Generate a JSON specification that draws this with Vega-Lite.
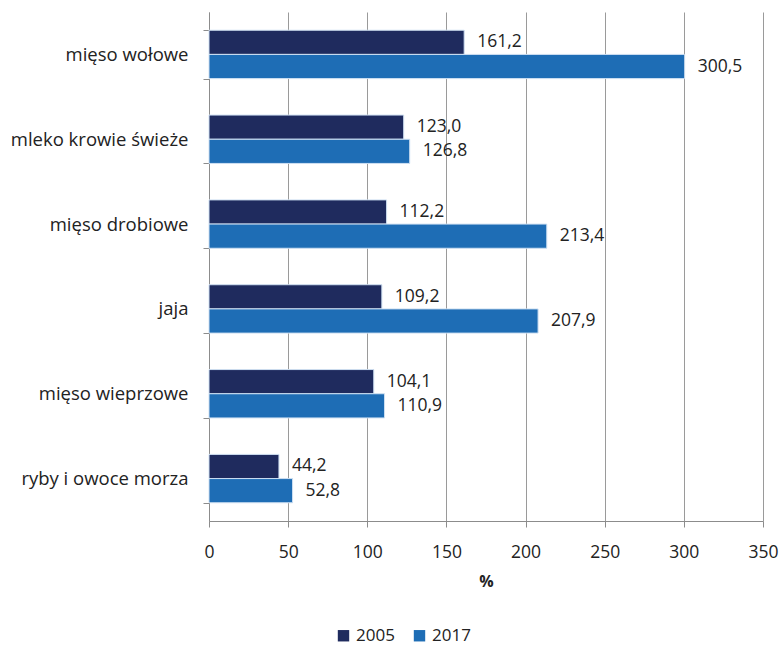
{
  "$schema": "https://vega.github.io/schema/vega-lite/v6.json",
  "width": 554,
  "height": 509,
  "autosize": "none",
  "padding": {"left": 209, "top": 12, "right": 19, "bottom": 126},
  "config": {
    "locale": {"number": {"decimal": ",", "thousands": "\u00a0", "grouping": [3], "currency": ["", ""]}},
    "view": {"stroke": null},
    "font": "Open Sans"
  },
  "data": {
    "values": [
      {"cat": "mięso wołowe", "year": "2005", "value": 161.2},
      {"cat": "mięso wołowe", "year": "2017", "value": 300.5},
      {"cat": "mleko krowie świeże", "year": "2005", "value": 123.0},
      {"cat": "mleko krowie świeże", "year": "2017", "value": 126.8},
      {"cat": "mięso drobiowe", "year": "2005", "value": 112.2},
      {"cat": "mięso drobiowe", "year": "2017", "value": 213.4},
      {"cat": "jaja", "year": "2005", "value": 109.2},
      {"cat": "jaja", "year": "2017", "value": 207.9},
      {"cat": "mięso wieprzowe", "year": "2005", "value": 104.1},
      {"cat": "mięso wieprzowe", "year": "2017", "value": 110.9},
      {"cat": "ryby i owoce morza", "year": "2005", "value": 44.2},
      {"cat": "ryby i owoce morza", "year": "2017", "value": 52.8}
    ]
  },
  "encoding": {
    "y": {
      "field": "cat",
      "type": "nominal",
      "sort": ["mięso wołowe", "mleko krowie świeże", "mięso drobiowe", "jaja", "mięso wieprzowe", "ryby i owoce morza"],
      "scale": {"paddingInner": 0.43, "paddingOuter": 0.215},
      "axis": {
        "title": null,
        "tickBand": "extent",
        "labelFontSize": 18.5,
        "labelColor": "#222222",
        "labelPadding": 15,
        "domainColor": "#8c8c8c",
        "tickColor": "#8c8c8c",
        "tickSize": 6,
        "labelLimit": 300
      }
    },
    "yOffset": {"field": "year", "type": "nominal", "sort": ["2005", "2017"]},
    "x": {
      "field": "value",
      "type": "quantitative",
      "scale": {"domain": [0, 350], "nice": false},
      "axis": {
        "values": [0, 50, 100, 150, 200, 250, 300, 350],
        "title": "%",
        "titleFontSize": 16,
        "titleFontWeight": "bold",
        "titleColor": "#222222",
        "titlePadding": 13,
        "labelFontSize": 17.5,
        "labelColor": "#222222",
        "labelPadding": 16,
        "domainColor": "#8c8c8c",
        "tickColor": "#8c8c8c",
        "tickSize": 6,
        "gridColor": "#9a9a9a",
        "grid": true,
        "labelFlush": false
      }
    }
  },
  "layer": [
    {
      "mark": {"type": "bar", "stroke": "#cfe0f2", "strokeWidth": 1},
      "encoding": {
        "color": {
          "field": "year",
          "type": "nominal",
          "scale": {"domain": ["2005", "2017"], "range": ["#1f2b5e", "#1e6db5"]},
          "legend": {
            "title": null,
            "orient": "none",
            "direction": "horizontal",
            "legendX": 126,
            "legendY": 615,
            "symbolType": "square",
            "symbolSize": 130,
            "symbolStrokeWidth": 0,
            "labelFontSize": 17,
            "labelColor": "#222222",
            "columnPadding": 16,
            "labelOffset": 4
          }
        }
      }
    },
    {
      "mark": {"type": "text", "align": "left", "baseline": "middle", "dx": 13, "fontSize": 17.5, "color": "#222222"},
      "encoding": {
        "text": {"field": "value", "type": "quantitative", "format": ".1f"}
      }
    }
  ]
}
